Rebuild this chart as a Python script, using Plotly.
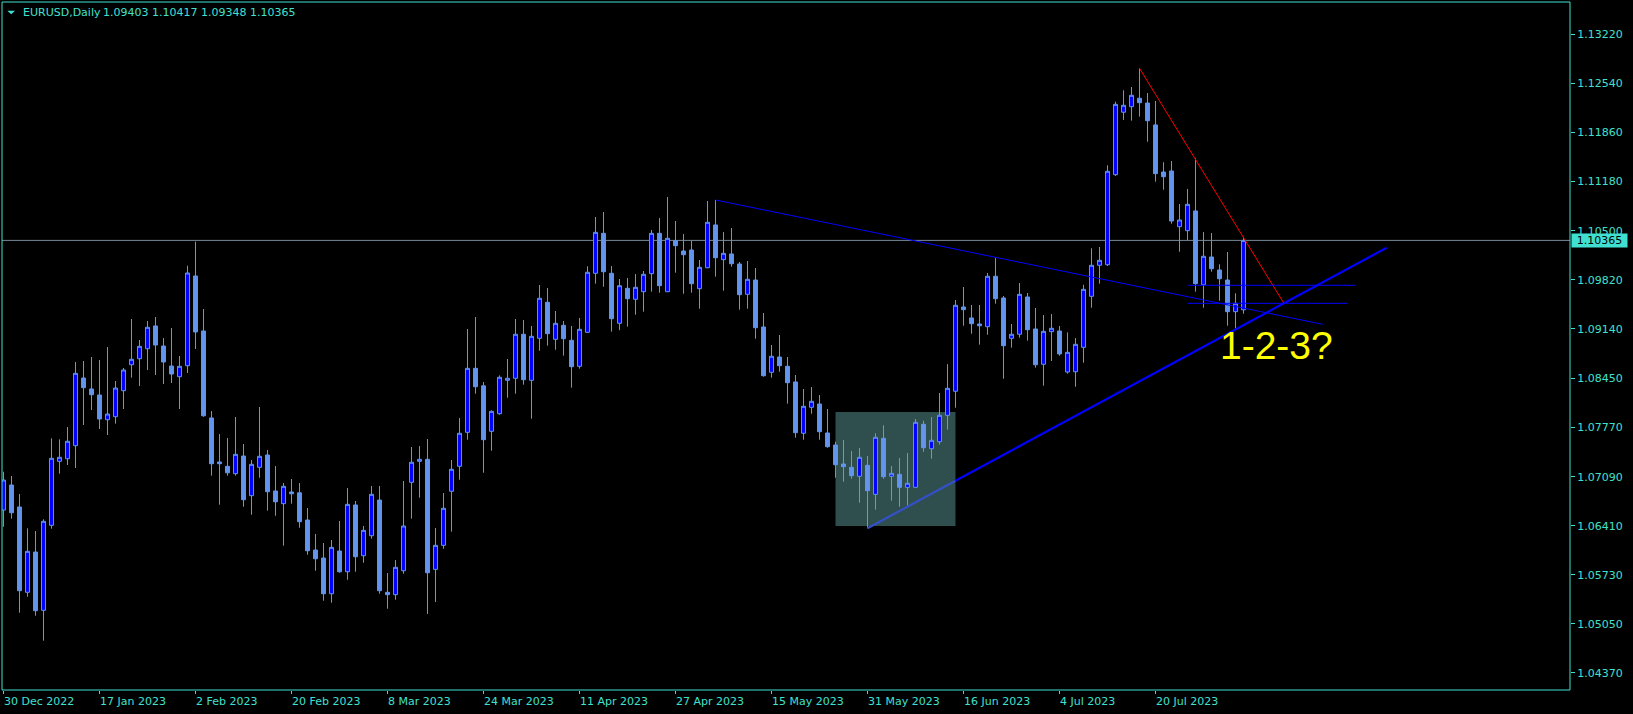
import plotly.graph_objects as go
import pandas as pd

# ---------------- data (EURUSD daily) ----------------
OPEN = [
    1.06628, 1.06975, 1.06670, 1.05488, 1.06046, 1.05238, 1.06416, 1.07303, 1.07339, 1.07520,
    1.08458, 1.08306, 1.08222, 1.07880, 1.07922, 1.08282, 1.08642, 1.08725, 1.08864, 1.09179,
    1.08901, 1.08624, 1.08476, 1.08628, 1.09872, 1.09109, 1.07904, 1.07294, 1.07234, 1.07132,
    1.07377, 1.06827, 1.07220, 1.07391, 1.06892, 1.06716, 1.06878, 1.06867, 1.06490, 1.06074,
    1.05963, 1.05468, 1.06060, 1.05773, 1.06698, 1.05995, 1.06272, 1.06767, 1.05488, 1.05455,
    1.05787, 1.07012, 1.07303, 1.07331, 1.05806, 1.06139, 1.06888, 1.07234, 1.07705, 1.08592,
    1.08350, 1.07719, 1.07963, 1.08426, 1.08454, 1.09064, 1.08426, 1.09008, 1.09507, 1.08994,
    1.09188, 1.08980, 1.08620, 1.09091, 1.09909, 1.10463, 1.09909, 1.09216, 1.09701, 1.09549,
    1.09654, 1.09904, 1.10463, 1.09654, 1.10361, 1.10218, 1.10232, 1.09696, 1.09987, 1.10579,
    1.10098, 1.10177, 1.10038, 1.09618, 1.09816, 1.09165, 1.08537, 1.08749, 1.08620, 1.08403,
    1.07692, 1.08052, 1.08098, 1.07696, 1.07529, 1.07266, 1.07220, 1.07096, 1.07248, 1.06846,
    1.07622, 1.07096, 1.07123, 1.06943, 1.06943, 1.07816, 1.07478, 1.07575, 1.07941, 1.08274,
    1.09442, 1.09290, 1.09206, 1.09169, 1.09868, 1.09567, 1.09008, 1.09064, 1.09581, 1.09137,
    1.08648, 1.09100, 1.09109, 1.08541, 1.08545, 1.08883, 1.09590, 1.10020, 1.10028, 1.11276,
    1.12141, 1.12218, 1.12335, 1.12269, 1.11965, 1.11313, 1.11327, 1.10555, 1.10500, 1.10773,
    1.09751, 1.10135, 1.09955, 1.09816, 1.09377, 1.09403,
]
HIGH = [
    1.07159, 1.07100, 1.06850, 1.06375, 1.06337, 1.06500, 1.07622, 1.07608, 1.07779, 1.08680,
    1.08694, 1.08749, 1.08707, 1.08888, 1.08416, 1.08597, 1.09276, 1.08985, 1.09248, 1.09303,
    1.09012, 1.09151, 1.08763, 1.10014, 1.10348, 1.09414, 1.08000, 1.07682, 1.07626, 1.07917,
    1.07543, 1.07321, 1.08056, 1.07460, 1.07238, 1.07003, 1.07058, 1.07003, 1.06656, 1.06296,
    1.06171, 1.06213, 1.06476, 1.06933, 1.06753, 1.06407, 1.06961, 1.06961, 1.05755, 1.05935,
    1.07030, 1.07502, 1.07515, 1.07612, 1.06379, 1.06864, 1.07321, 1.07904, 1.09137, 1.09303,
    1.08403, 1.08010, 1.08495, 1.08721, 1.09276, 1.09262, 1.09179, 1.09747, 1.09705, 1.09387,
    1.09248, 1.09179, 1.09290, 1.10006, 1.10689, 1.10759, 1.10010, 1.09830, 1.09844, 1.09899,
    1.09941, 1.10509, 1.10676, 1.10967, 1.10634, 1.10454, 1.10361, 1.10093, 1.10911, 1.10925,
    1.10482, 1.10537, 1.10066, 1.10080, 1.09983, 1.09359, 1.08915, 1.09054, 1.08749, 1.08500,
    1.08306, 1.08333, 1.08222, 1.08028, 1.07575, 1.07599, 1.07446, 1.07488, 1.07377, 1.07692,
    1.07802, 1.07238, 1.07349, 1.07418, 1.07890, 1.07866, 1.07917, 1.08250, 1.08650, 1.09540,
    1.09719, 1.09470, 1.09470, 1.09913, 1.10121, 1.09594, 1.09206, 1.09775, 1.09636, 1.09428,
    1.09331, 1.09345, 1.09179, 1.09091, 1.09012, 1.09750, 1.10256, 1.10274, 1.11406, 1.12287,
    1.12445, 1.12491, 1.12750, 1.12408, 1.12297, 1.11448, 1.11466, 1.10870, 1.11078, 1.11503,
    1.10482, 1.10468, 1.10034, 1.10204, 1.09632, 1.10417,
]
LOW = [
    1.06397, 1.06508, 1.05205, 1.05427, 1.05163, 1.04817, 1.06369, 1.07132, 1.07252, 1.07211,
    1.07807, 1.08014, 1.07751, 1.07668, 1.07825, 1.08028, 1.08462, 1.08347, 1.08569, 1.08500,
    1.08375, 1.08389, 1.08028, 1.08527, 1.08860, 1.07920, 1.07104, 1.06702, 1.07104, 1.07104,
    1.06674, 1.06563, 1.07076, 1.06619, 1.06549, 1.06134, 1.06716, 1.06383, 1.06009, 1.05787,
    1.05371, 1.05344, 1.05759, 1.05662, 1.05773, 1.05898, 1.06231, 1.05468, 1.05260, 1.05385,
    1.05746, 1.06508, 1.06799, 1.05187, 1.05353, 1.06092, 1.06328, 1.07048, 1.07603, 1.08240,
    1.07145, 1.07450, 1.07949, 1.08185, 1.08240, 1.08365, 1.07894, 1.08836, 1.08906, 1.08850,
    1.08767, 1.08324, 1.08587, 1.09085, 1.09765, 1.09723, 1.09100, 1.09120, 1.09169, 1.09335,
    1.09377, 1.09654, 1.09640, 1.09650, 1.09917, 1.09626, 1.09640, 1.09418, 1.09980, 1.09862,
    1.09668, 1.10000, 1.09405, 1.09418, 1.09003, 1.08476, 1.08462, 1.08545, 1.08102, 1.07631,
    1.07603, 1.07963, 1.07603, 1.07492, 1.07076, 1.07021, 1.07062, 1.06730, 1.06375, 1.06633,
    1.07062, 1.06757, 1.06674, 1.06688, 1.06940, 1.07436, 1.07339, 1.07534, 1.07741, 1.08046,
    1.09183, 1.09072, 1.08920, 1.09058, 1.09488, 1.08448, 1.08878, 1.09017, 1.08975, 1.08601,
    1.08351, 1.08694, 1.08767, 1.08518, 1.08337, 1.08670, 1.09432, 1.09765, 1.10010, 1.11258,
    1.12034, 1.12024, 1.12080, 1.11733, 1.11179, 1.11068, 1.10597, 1.10208, 1.10371, 1.09654,
    1.09432, 1.09931, 1.09529, 1.09183, 1.09133, 1.09348,
]
CLOSE = [
    1.07044, 1.06591, 1.05510, 1.06056, 1.05233, 1.06472, 1.07345, 1.07359, 1.07581, 1.08523,
    1.08324, 1.08227, 1.07890, 1.07959, 1.08319, 1.08569, 1.08717, 1.08897, 1.09161, 1.08915,
    1.08680, 1.08513, 1.08620, 1.09913, 1.09096, 1.07935, 1.07270, 1.07270, 1.07145, 1.07400,
    1.06771, 1.07262, 1.07373, 1.06882, 1.06743, 1.06957, 1.06854, 1.06466, 1.06064, 1.05953,
    1.05468, 1.06111, 1.05773, 1.06707, 1.05981, 1.06347, 1.06846, 1.05510, 1.05455, 1.05834,
    1.06407, 1.07290, 1.07331, 1.05759, 1.06139, 1.06652, 1.07193, 1.07692, 1.08592, 1.08337,
    1.07603, 1.07996, 1.08468, 1.08454, 1.09064, 1.08434, 1.09036, 1.09563, 1.09072, 1.09216,
    1.09003, 1.08615, 1.09133, 1.09923, 1.10477, 1.09931, 1.09280, 1.09737, 1.09557, 1.09715,
    1.09895, 1.10463, 1.09737, 1.10394, 1.10292, 1.10167, 1.09765, 1.09992, 1.10616, 1.10125,
    1.10186, 1.10042, 1.09613, 1.09826, 1.09155, 1.08490, 1.08759, 1.08628, 1.08393, 1.07700,
    1.08066, 1.08135, 1.07714, 1.07506, 1.07256, 1.07229, 1.07104, 1.07359, 1.06896, 1.07636,
    1.07090, 1.07137, 1.06943, 1.06999, 1.07844, 1.07492, 1.07594, 1.07941, 1.08315, 1.09466,
    1.09405, 1.09211, 1.09183, 1.09868, 1.09557, 1.08906, 1.09064, 1.09618, 1.09127, 1.08642,
    1.09105, 1.09147, 1.08791, 1.08814, 1.08925, 1.09687, 1.10020, 1.10089, 1.11323, 1.12251,
    1.12238, 1.12376, 1.12274, 1.12024, 1.11290, 1.11248, 1.10634, 1.10648, 1.10865, 1.09765,
    1.10145, 1.09973, 1.09834, 1.09377, 1.09493, 1.10365,
]

FIRST_DAY = "2022-12-30"
DATES = pd.bdate_range(FIRST_DAY, periods=len(OPEN))

TICK_LABELS = ["30 Dec 2022", "17 Jan 2023", "2 Feb 2023", "20 Feb 2023", "8 Mar 2023",
               "24 Mar 2023", "11 Apr 2023", "27 Apr 2023", "15 May 2023", "31 May 2023",
               "16 Jun 2023", "4 Jul 2023", "20 Jul 2023"]
Y_TICKS = [1.13220, 1.12540, 1.11860, 1.11180, 1.10500, 1.09820, 1.09140,
           1.08450, 1.07770, 1.07090, 1.06410, 1.05730, 1.05050, 1.04370]
Y_TICK_TEXT = ["%.5f" % v for v in Y_TICKS]

SYMBOL = "EURUSD,Daily"
LAST_BAR = "1.09403 1.10417 1.09348 1.10365"
LAST_PRICE = 1.10365

# drawn objects, in (bar number, price)
DOWN_TREND = [(89, 1.10925), (164.9, 1.09202)]
UP_TREND = [(108, 1.06375), (172.9, 1.10264)]
RED_TREND = [(142, 1.12750), (160.0, 1.09502)]
LEVELS = [(148, 169, 1.09743), (148, 168, 1.09493)]
ZONE = (104, 119, 1.06407, 1.07987)
PATTERN_TEXT = (159.15, 1.08904, "1-2-3?")

# ---------------- styling ----------------
FG = "#40E0D0"
UP_FILL = "#0000FF"
CANDLE = "#6495ED"
FONT = "DejaVu Sans"

bars = list(range(len(OPEN)))
tick_bars = [DATES.get_loc(pd.Timestamp(pd.to_datetime(t))) for t in TICK_LABELS]

fig = go.Figure()
fig.add_trace(go.Candlestick(
    x=bars, open=OPEN, high=HIGH, low=LOW, close=CLOSE,
    hovertext=[d.strftime("%Y.%m.%d") for d in DATES],
    increasing=dict(fillcolor=UP_FILL, line=dict(color=CANDLE, width=1)),
    decreasing=dict(fillcolor=CANDLE, line=dict(color=CANDLE, width=1)),
    whiskerwidth=0, showlegend=False,
))

shapes = []
# rectangle zone (background)
shapes.append(dict(type="rect", xref="x", yref="y", x0=ZONE[0], x1=ZONE[1], y0=ZONE[2], y1=ZONE[3],
                   fillcolor="#2F4F4F", line=dict(width=0), layer="below"))
# last price line
shapes.append(dict(type="line", xref="paper", yref="y", x0=0, x1=1, y0=LAST_PRICE, y1=LAST_PRICE,
                   line=dict(color="#778899", width=1), layer="below"))
# trend lines
shapes.append(dict(type="line", xref="x", yref="y", x0=DOWN_TREND[0][0], y0=DOWN_TREND[0][1],
                   x1=DOWN_TREND[1][0], y1=DOWN_TREND[1][1], line=dict(color="#0000FF", width=1)))
# rising support: the part inside the zone looks paler (blended with the zone)
(ux0, uy0), (ux1, uy1) = UP_TREND
slope = (uy1 - uy0) / (ux1 - ux0)
split_x = ZONE[1]
split_y = uy0 + slope * (split_x - ux0)
shapes.append(dict(type="line", xref="x", yref="y", x0=ux0, y0=uy0, x1=split_x, y1=split_y,
                   line=dict(color="#3450C8", width=2.2)))
shapes.append(dict(type="line", xref="x", yref="y", x0=split_x, y0=split_y, x1=ux1, y1=uy1,
                   line=dict(color="#0000FF", width=2.2)))
shapes.append(dict(type="line", xref="x", yref="y", x0=RED_TREND[0][0], y0=RED_TREND[0][1],
                   x1=RED_TREND[1][0], y1=RED_TREND[1][1], line=dict(color="#FF0000", width=1)))
for a, b, lvl in LEVELS:
    shapes.append(dict(type="line", xref="x", yref="y", x0=a, x1=b, y0=lvl, y1=lvl,
                       line=dict(color="#0000FF", width=1)))
# frame
shapes.append(dict(type="rect", xref="paper", yref="paper", x0=0, x1=1, y0=0, y1=1,
                   line=dict(color=FG, width=1), fillcolor="rgba(0,0,0,0)"))
# small triangle of the header
shapes.append(dict(type="path", xref="paper", yref="paper",
                   path="M 0.00338 0.98735 L 0.00829 0.98735 L 0.00587 0.98212 Z",
                   fillcolor=FG, line=dict(color=FG, width=0)))

annotations = []
annotations.append(dict(xref="paper", yref="paper", x=0, y=1, xshift=19.7, yshift=-10.7,
                        xanchor="left", yanchor="middle", text=SYMBOL, showarrow=False,
                        borderpad=0, font=dict(family=FONT, size=11, color=FG)))
annotations.append(dict(xref="paper", yref="paper", x=0, y=1, xshift=100.3, yshift=-10.7,
                        xanchor="left", yanchor="middle", text=LAST_BAR, showarrow=False,
                        borderpad=0, font=dict(family=FONT, size=11, color=FG)))
for tb, lab in zip(tick_bars, TICK_LABELS):
    annotations.append(dict(xref="x", yref="paper", x=tb, y=0, yshift=-11.7, xshift=-1,
                            xanchor="left", yanchor="middle", text=lab, showarrow=False,
                            borderpad=0, font=dict(family=FONT, size=11, color=FG)))
annotations.append(dict(xref="paper", yref="y", x=1, y=LAST_PRICE, xshift=1,
                        xanchor="left", yanchor="middle", text="%.5f" % LAST_PRICE,
                        showarrow=False, bgcolor=FG, borderpad=0, width=55, height=13,
                        font=dict(family=FONT, size=11, color="#000000")))
annotations.append(dict(xref="x", yref="y", x=PATTERN_TEXT[0], y=PATTERN_TEXT[1],
                        text=PATTERN_TEXT[2], showarrow=False, xanchor="center", yanchor="middle",
                        font=dict(family="Liberation Sans", size=39, color="#FFFF00")))

fig.update_layout(
    width=1633, height=714,
    paper_bgcolor="#000000", plot_bgcolor="#000000",
    margin=dict(l=2, r=63, t=2, b=24, pad=0),
    showlegend=False,
    shapes=shapes, annotations=annotations,
    xaxis=dict(range=[-0.1875, 195.8125], showgrid=False, zeroline=False, showline=False,
               ticks="outside", tickvals=tick_bars, ticklen=3, tickcolor=FG,
               showticklabels=False, rangeslider=dict(visible=False), automargin=False,
               fixedrange=True),
    yaxis=dict(side="right", range=[1.04134, 1.13669], showgrid=False, zeroline=False,
               showline=False, ticks="outside", ticklen=4, tickcolor=FG,
               tickvals=Y_TICKS, ticktext=Y_TICK_TEXT, automargin=False,
               tickfont=dict(family=FONT, size=11, color=FG), fixedrange=True),
    hovermode="x",
)

fig.write_html(
    "out.html",
    config={"displayModeBar": False},
    post_script="document.body.style.margin='0';document.body.style.background='#000';",
)
